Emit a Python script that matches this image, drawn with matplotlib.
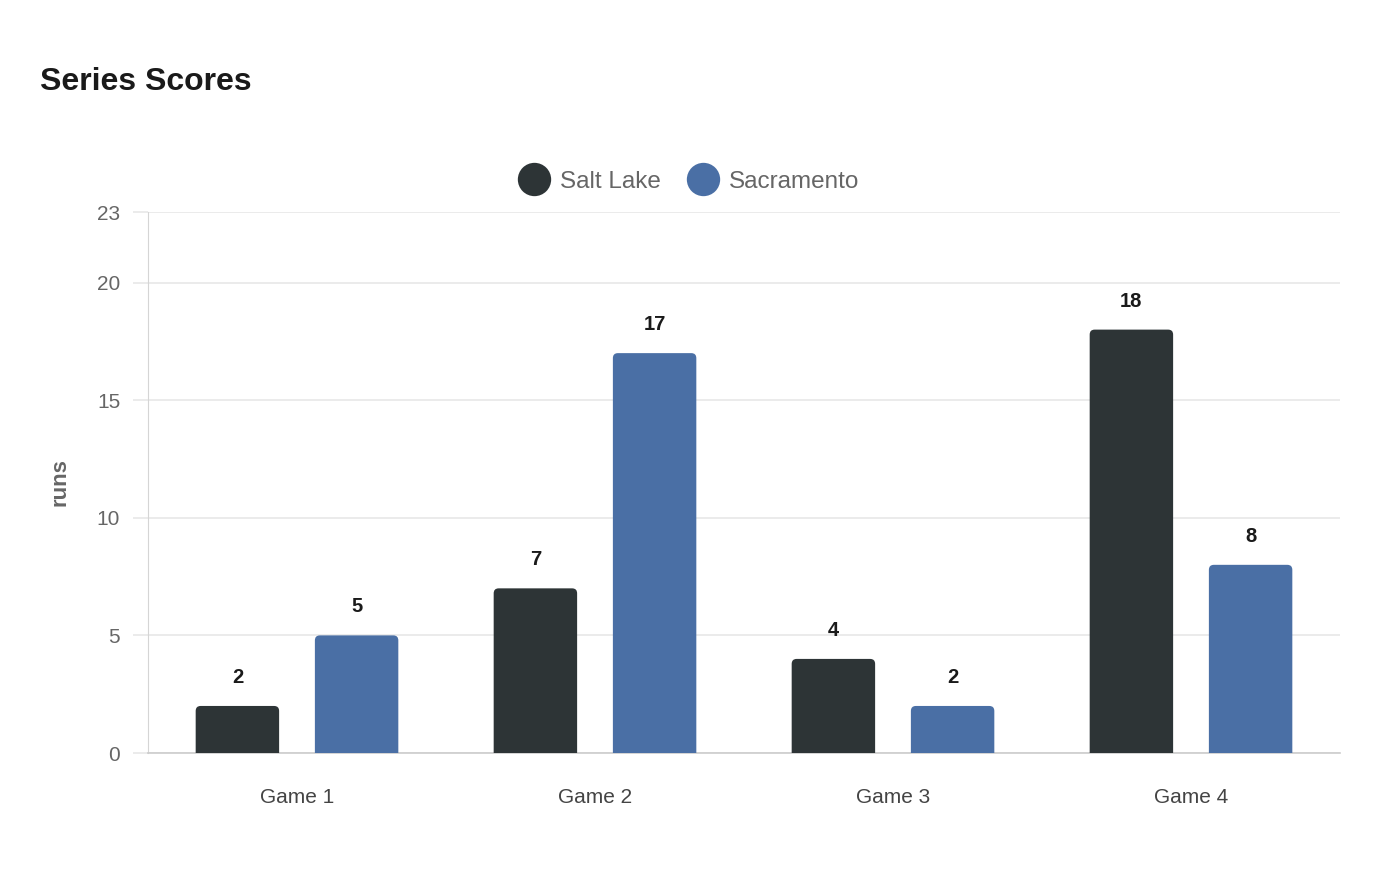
"""
Series Scores bar chart
"""

import matplotlib.pyplot as plt
from matplotlib.patches import FancyBboxPatch
from matplotlib.lines import Line2D
import numpy as np

plt.rcParams['font.family'] = ['Liberation Sans', 'DejaVu Sans']

# Data
games = ['Game 1', 'Game 2', 'Game 3', 'Game 4']
salt_lake = [2, 7, 4, 18]
sacramento = [5, 17, 2, 8]
series_names = ['Salt Lake', 'Sacramento']
colors = ['#2d3436', '#4a6fa5']
yticks = [0, 5, 10, 15, 20, 23]

W, H = 1400, 880
fig = plt.figure(figsize=(W / 100, H / 100), dpi=100)
ax = fig.add_axes([148 / W, (H - 753) / H, (1340 - 148) / W, (753 - 212) / H])

ax.set_xlim(-0.5, len(games) - 0.5)
ax.set_ylim(0, 23)

# px per data unit, used for rounding corners
px_x = (1340 - 148) / len(games)
px_y = (753 - 212) / 23.0

bar_w = 0.28
offset = 0.2
x = np.arange(len(games))
for vals, off, col in [(salt_lake, -offset, colors[0]), (sacramento, offset, colors[1])]:
    for xi, v in zip(x, vals):
        left = xi + off - bar_w / 2
        patch = FancyBboxPatch((left, -1), bar_w, v + 1,
                               boxstyle='round,pad=0,rounding_size=%f' % (5 / px_x),
                               mutation_aspect=px_x / px_y,
                               facecolor=col, edgecolor='none', zorder=3)
        ax.add_patch(patch)
        ax.annotate('%d' % v, (xi + off, v), xytext=(0, 20.5), textcoords='offset points',
                    ha='center', va='center', fontsize=14.5, fontweight='bold',
                    color='#1a1a1a', zorder=4)

# Axes styling
ax.set_yticks(yticks)
ax.set_yticklabels([str(t) for t in yticks])
ax.set_xticks(x)
ax.set_xticklabels(games)
ax.grid(axis='y', color='#e8e8e8', linewidth=1.2, zorder=0)
ax.tick_params(axis='y', length=11, color='#e8e8e8', width=1.2, labelsize=15,
               labelcolor='#666666', pad=9)
ax.tick_params(axis='x', length=0, labelsize=15, labelcolor='#444444', pad=25)
for s in ['top', 'right']:
    ax.spines[s].set_visible(False)
ax.spines['left'].set_color('#d5d5d5')
ax.spines['left'].set_linestyle((0, (1, 1)))
ax.spines['left'].set_linewidth(0.8)
ax.spines['bottom'].set_color('#cccccc')
ax.spines['bottom'].set_linewidth(1.2)

ax.set_ylabel('runs', fontsize=16, fontweight='bold', color='#666666', labelpad=19)

# Title
fig.text(40 / W, 1 - 82 / H, 'Series Scores', fontsize=23, fontweight='bold',
         color='#1a1a1a', ha='left', va='center')

# Legend
handles = [Line2D([], [], linestyle='none', marker='o', markersize=24,
                  markerfacecolor=c, markeredgecolor='none') for c in colors]
leg = fig.legend(handles, series_names, loc='center', bbox_to_anchor=(687 / W, 1 - 182 / H),
                 ncol=2, frameon=False, fontsize=17.5, handletextpad=0.3,
                 columnspacing=0.9, handlelength=1.6)
for t in leg.get_texts():
    t.set_color('#666666')

plt.savefig('out.png', dpi=100)
